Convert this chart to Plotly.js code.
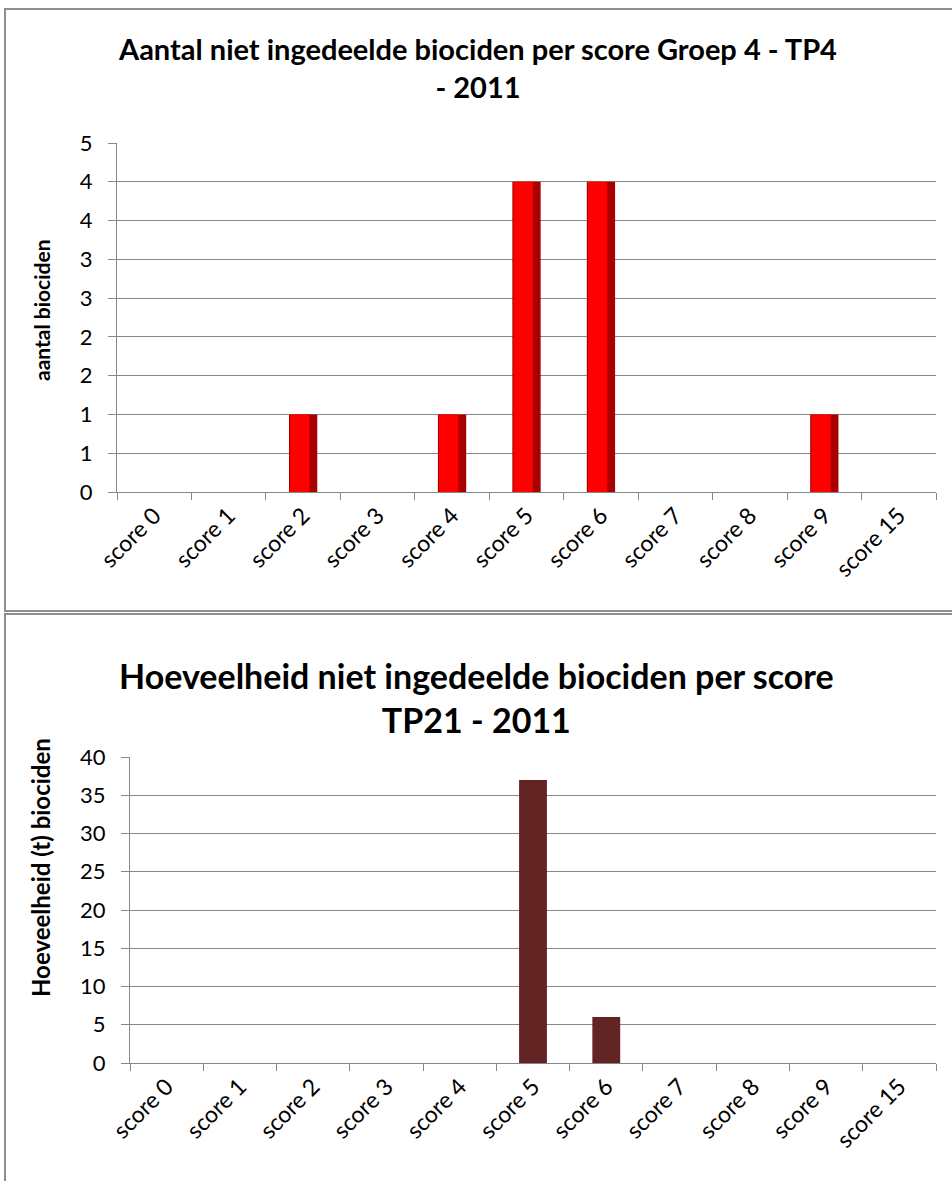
<!DOCTYPE html>
<html>
<head>
<meta charset="utf-8">
<script src="https://cdn.plot.ly/plotly-3.0.1.min.js"></script>
<style>html,body{margin:0;padding:0;background:#fff;}#chart{width:952px;height:1181px;}</style>
</head>
<body>
<div id="chart"></div>
<script>
// ---- data ----
const categories = ["score 0","score 1","score 2","score 3","score 4","score 5","score 6","score 7","score 8","score 9","score 15"];
const aantalTP4 = [0,0,1,0,1,4,4,0,0,1,0];
const hoeveelheidTP21 = [0,0,0,0,0,37,6,0,0,0,0];
const topTickVals = [0,0.5,1,1.5,2,2.5,3,3.5,4,4.5];
const topTickText = ["0","1","1","2","2","3","3","4","4","5"];
const bottomTickVals = [0,5,10,15,20,25,30,35,40];
const titleTop = "Aantal niet ingedeelde biociden per score Groep 4 - TP4<br>- 2011";
const titleBottom = "Hoeveelheid niet ingedeelde biociden per score<br>TP21 - 2011";
const yTitleTop = "aantal biociden";
const yTitleBottom = "Hoeveelheid (t) biociden";

const W = 952, H = 1181;
const px = v => v / W;
const py = v => 1 - v / H;

const FONT = "Lato, 'Open Sans', sans-serif";
const GRID = "#878787";

const traces = [
  {type:"bar", x:categories, y:aantalTP4, xaxis:"x", yaxis:"y", width:0.38,
   marker:{color:"#a80000", line:{width:0}}, hoverinfo:"x+y"},
  {type:"bar", x:categories, y:aantalTP4, xaxis:"x", yaxis:"y", width:0.26, offset:-0.175,
   marker:{color:"#ff0000", line:{width:0}}, hoverinfo:"skip"},
  {type:"bar", x:categories, y:hoeveelheidTP21, xaxis:"x2", yaxis:"y2", width:0.38,
   marker:{color:"#632523", line:{width:0}}, hoverinfo:"x+y"}
];

const xCommon = {
  type:"category", showgrid:false, showline:true, linecolor:GRID, linewidth:1,
  ticks:"outside", tickson:"boundaries", ticklen:7, tickcolor:GRID, tickwidth:1,
  tickangle:-45, tickfont:{family:FONT, size:23, color:"#000"}, fixedrange:true,
  ticklabelstandoff:0
};
const yCommon = {
  showgrid:true, gridcolor:GRID, gridwidth:1, showline:true, linecolor:GRID, linewidth:1,
  ticks:"outside", ticklen:8, tickcolor:GRID, tickwidth:1, zeroline:false,
  tickfont:{family:FONT, size:22, color:"#000"}, fixedrange:true, tickmode:"array",
  ticklabelstandoff:11
};

const layout = {
  width:W, height:H, margin:{l:0,r:0,t:0,b:0},
  paper_bgcolor:"#fff", plot_bgcolor:"#fff",
  showlegend:false, barmode:"overlay",
  font:{family:FONT, color:"#000"},
  xaxis:Object.assign({}, xCommon, {domain:[px(117), px(936)], anchor:"y"}),
  yaxis:Object.assign({}, yCommon, {domain:[py(492), py(143)], range:[0,4.5], tickvals:topTickVals, ticktext:topTickText, anchor:"x"}),
  xaxis2:Object.assign({}, xCommon, {domain:[px(130), px(936)], anchor:"y2"}),
  yaxis2:Object.assign({}, yCommon, {domain:[py(1063), py(757)], range:[0,40], tickvals:bottomTickVals, anchor:"x2"}),
  annotations:[
    {text:titleTop, xref:"paper", yref:"paper", x:px(477), y:py(67), xanchor:"center", yanchor:"middle",
     showarrow:false, font:{family:FONT, size:29, color:"#000", weight:"bold"}, align:"center"},
    {text:titleBottom, xref:"paper", yref:"paper", x:px(476), y:py(697), xanchor:"center", yanchor:"middle",
     showarrow:false, font:{family:FONT, size:34, color:"#000", weight:"bold"}, align:"center"},
    {text:yTitleTop, xref:"paper", yref:"paper", x:px(42), y:py(310), xanchor:"center", yanchor:"middle",
     textangle:-90, showarrow:false, font:{family:FONT, size:21, color:"#000", weight:"bold"}},
    {text:yTitleBottom, xref:"paper", yref:"paper", x:px(40), y:py(868), xanchor:"center", yanchor:"middle",
     textangle:-90, showarrow:false, font:{family:FONT, size:24, color:"#000", weight:"bold"}}
  ],
  shapes:[
    {type:"rect", xref:"paper", yref:"paper", x0:px(5), x1:px(960), y0:py(611), y1:py(9),
     line:{color:"#8e8e8e", width:2}, fillcolor:"rgba(0,0,0,0)"},
    {type:"rect", xref:"paper", yref:"paper", x0:px(5), x1:px(960), y0:py(1190), y1:py(614),
     line:{color:"#8e8e8e", width:2}, fillcolor:"rgba(0,0,0,0)"}
  ]
};

Plotly.newPlot("chart", traces, layout, {staticPlot:true, displayModeBar:false});
</script>
</body>
</html>
